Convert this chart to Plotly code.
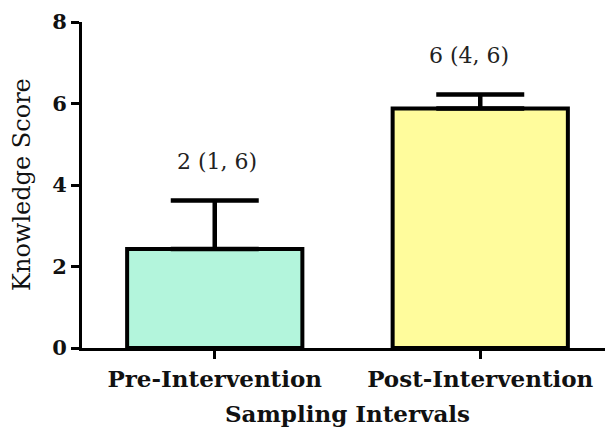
import plotly.graph_objects as go

categories = ["Pre-Intervention", "Post-Intervention"]
values = [2.43, 5.88]
err_plus = [1.19, 0.34]
labels = ["2 (1, 6)", "6 (4, 6)"]
bar_colors = ["#b3f5dc", "#fffc9c"]
y_ticks = [0, 2, 4, 6, 8]

FONT = "DejaVu Serif"

fig = go.Figure()
fig.add_trace(go.Bar(
    x=categories, y=values, width=0.66,
    marker=dict(color=bar_colors, line=dict(color="black", width=4)),
    error_y=dict(type="data", array=err_plus, arrayminus=[0, 0], symmetric=False,
                 color="black", thickness=4.5, width=44),
))

xshifts = [2, -11]
for c, v, e, t, xs in zip(categories, values, err_plus, labels, xshifts):
    fig.add_annotation(x=c, y=v + e, text=t, showarrow=False, yanchor="middle",
                       yshift=39, xshift=xs,
                       font=dict(family=FONT, size=22, color="#222222"))

fig.add_annotation(xref="paper", yref="paper", x=0.5, y=0, yanchor="middle",
                   yshift=-65, text="Sampling Intervals", showarrow=False,
                   font=dict(family=FONT, size=23, color="#111111", weight="bold"))
fig.add_annotation(xref="paper", yref="paper", x=0, y=0.5, xanchor="center",
                   xshift=-60, text="Knowledge Score", textangle=-90, showarrow=False,
                   font=dict(family=FONT, size=24, color="#111111"))

fig.update_layout(
    width=605, height=420,
    margin=dict(l=74, r=0, t=14, b=80),
    plot_bgcolor="white", paper_bgcolor="white",
    showlegend=False,
    xaxis=dict(range=[-0.5, 1.5], showline=True, linecolor="black", linewidth=3,
               ticks="outside", ticklen=8, tickwidth=3, tickcolor="black",
               showgrid=False, zeroline=False,
               tickfont=dict(family=FONT, size=23, color="#111111", weight="bold")),
    yaxis=dict(range=[0, 8], tickvals=y_ticks, showline=True, linecolor="black",
               linewidth=3, ticks="outside", ticklen=8, tickwidth=3, tickcolor="black",
               showgrid=False, zeroline=False,
               tickfont=dict(family=FONT, size=21, color="#111111", weight="bold")),
)

fig.write_html("out.html")
